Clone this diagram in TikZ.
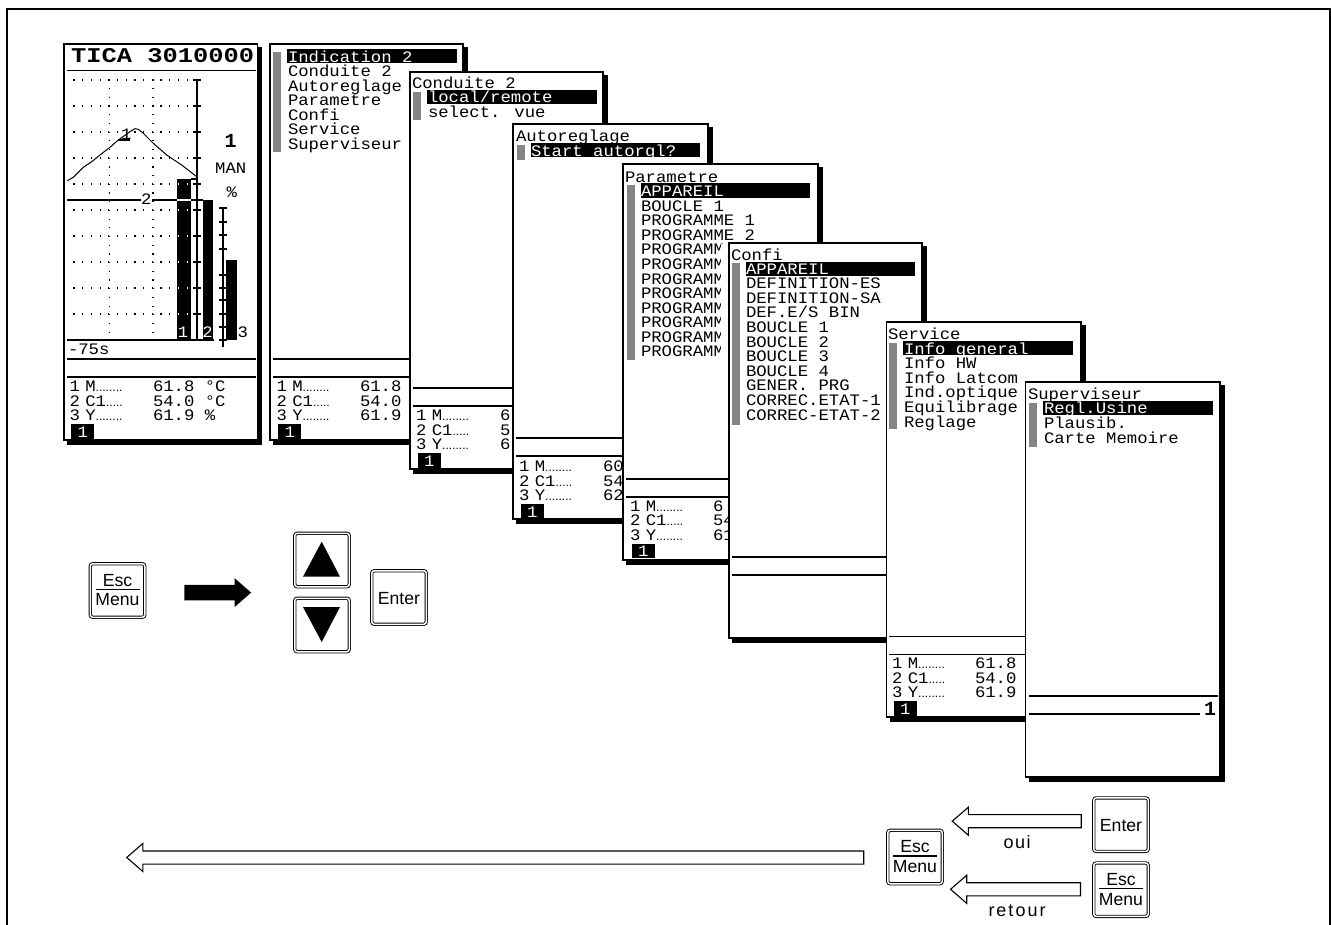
\documentclass[tikz,border=0pt]{standalone}
\usepackage{fontspec}
\usepackage{graphicx}
\usetikzlibrary{shapes.arrows,shapes.geometric}
\newfontfamily\lcd[FakeStretch=1.08]{Liberation Mono}
\newfontfamily\lcdb{Liberation Mono}
\newfontfamily\keyf{Liberation Sans}
\newcounter{tn}
\tikzset{
  lcdtext/.style={anchor=base west,inner sep=0pt,outer sep=0pt,font=\lcd\fontsize{16}{18}\selectfont},
  keytext/.style={inner sep=0pt,outer sep=0pt,font=\keyf\fontsize{17.6}{20}\selectfont},
  keybox/.style={draw=black,line width=0.9pt,double=white,double distance=1.5pt,rounded corners=2.5pt,minimum width=54.5pt,minimum height=53.5pt,inner sep=0pt,fill=white},
  holarrow/.style={single arrow,draw=black,line width=1.1pt,fill=white,shape border rotate=180,inner sep=0pt,outer sep=0pt,single arrow tip angle=82,single arrow head extend=7.5pt},
  panelline/.style={draw=black,line width=1.4pt,fill=white},
  rulel/.style={draw=black,line width=1.2pt},
  hatchbar/.style={fill=black!48},
  hilite/.style={fill=black},
}
\newcommand{\tx}[3]{\stepcounter{tn}\node[lcdtext] (t\arabic{tn}) at (#1,#2+5.6) {#3};}
\newcommand{\txw}[3]{\stepcounter{tn}\node[lcdtext,text=white] (t\arabic{tn}) at (#1,#2+5.6) {#3};}
\newcommand{\panel}[4]{%
  \fill[black] (#1+3,#2+3) -- (#3+4.5,#2+3) -- (#3+4.5,#4+4.5) -- (#1+3,#4+4.5) -- cycle;
  \path[panelline] (#1,#2) rectangle (#3,#4);}
\newcommand{\dotsf}[1]{{\keyf\fontsize{12}{12}\selectfont #1}}
% x, y of first line, x of values, three values
\newcommand{\datablk}[6]{%
  \tx{#1}{#2}{1\kern5.5ptM\dotsf{........}}
  \tx{#1}{#2+14.5}{2\kern5.5ptC1\dotsf{.....}}
  \tx{#1}{#2+29}{3\kern5.5ptY\dotsf{........}}
  \tx{#3}{#2}{#4}
  \tx{#3}{#2+14.5}{#5}
  \tx{#3}{#2+29}{#6}
  \fill[black] (#1+1.7,#2+38) rectangle (#1+24.7,#2+52.5);
  \txw{#1+8}{#2+45.5}{1}}
\newcommand{\esckey}[3]{%
  \node[keybox] (#1) at (#2,#3) {};
  \node[keytext] (#1e) at (#2,#3-10) {Esc};
  \node[keytext] (#1m) at (#2,#3+9.5) {Menu};
  \draw[line width=1.1pt] (#2-22,#3-1) -- (#2+22,#3-1);}
\begin{document}
\begin{tikzpicture}[x=1pt,y=-1pt]
\useasboundingbox (0,0) rectangle (1331,925);
\fill[white] (0,0) rectangle (1331,925);
% outer frame
\draw[line width=2.2pt] (7,925) -- (7,9) -- (1330,9) -- (1330,925);

% ---------- panel 0 : TICA
\panel{64}{44}{257.5}{440}
\stepcounter{tn}\node[anchor=base west,inner sep=0pt] (tica) at (71,63) {\scalebox{1.27}[1.05]{\lcdb\bfseries\fontsize{20}{22}\selectfont TICA 3010000}};
\draw[rulel] (67,70.7) -- (256,70.7);
\draw[rulel] (67,359) -- (256,359);
\draw[rulel] (67,377) -- (256,377);
% grid
\foreach \gy in {80,106,132,158,184,210,236,262,288,314}
  \foreach \n in {0,...,14}
    \fill[black] (74+\n*8.7-0.6,\gy-0.6) rectangle ++(1.2,1.2);
\foreach \gx in {109.5,153}
  \foreach \n in {0,...,29}
    \fill[black] (\gx-0.6,80+\n*8.7-0.6) rectangle ++(1.2,1.2);
% bars
\fill[black] (177.3,179) rectangle (190.7,340);
\fill[black] (203.3,200) rectangle (213.3,340);
\fill[black] (226,260) rectangle (236.7,340);
\begin{scope}
\clip (177.3,179) rectangle (190.7,340);
\foreach \gy in {184,210,236,262,288,314}
  \foreach \n in {0,...,14}
    \fill[white] (74+\n*8.7-0.6,\gy-0.6) rectangle ++(1.2,1.2);
\end{scope}
% axes
\draw[line width=1.3pt] (197,80) -- (197,340);
\foreach \gy in {80,106,132,158,184,210,236,262,288,314}
  \draw[line width=1.2pt] (193,\gy) -- (201,\gy);
\draw[line width=1.2pt] (223,208) -- (223,347);
\foreach \gy in {208,222,235,249,275,288,300,314,327,340}
  \draw[line width=1.2pt] (219,\gy) -- (227,\gy);
% baseline and level lines
\draw[rulel] (67,340) -- (214,340);
\draw[rulel] (67,200) -- (177.3,200);
\draw[white,line width=1.1pt] (177.3,200) -- (190.7,200);
\draw[rulel] (190.7,200) -- (203.3,200);
\fill[white] (140.5,192) rectangle (151.5,207);
\tx{141}{199}{2}
% trend
\draw[line width=1pt] (67.3,180.7) -- (73.3,177.3) -- (83.3,167.3) -- (91.7,161.7) -- (100,155) -- (110,147.3) -- (118.3,140) -- (130,131.7) -- (135,128.7) -- (138.3,129.3) -- (143.3,133.3) -- (153.3,143.3) -- (166.7,155) -- (181.7,165) -- (196.7,176.7);
\draw[line width=1.1pt] (190.7,179) -- (197,179);
\draw[line width=1.1pt] (118.3,140) -- (130,140);
\tx{121}{134.3}{1}
\txw{177.8}{332}{1}
\txw{202.3}{332}{2}
\tx{237.5}{332}{3}
\tx{68}{348.5}{-75s}
\stepcounter{tn}\node[anchor=base,inner sep=0pt] (bigone) at (230.7,147.5) {\lcdb\bfseries\fontsize{20}{22}\selectfont 1};
\stepcounter{tn}\node[lcdtext,anchor=base] (man) at (230.7,173.5) {MAN};
\stepcounter{tn}\node[lcdtext,anchor=base] (pct) at (231.7,198) {\%};
\datablk{69.5}{386}{153}{61.8 °C}{54.0 °C}{61.9 \%}

% ---------- panel 1 : main menu
\panel{270}{44}{463}{440}
\fill[hatchbar] (273,52) rectangle (281,152);
\fill[hilite] (287.3,49) rectangle (457.3,63);
\txw{288}{56.5}{Indication 2}
\tx{288}{71}{Conduite 2}
\tx{288}{85.5}{Autoreglage}
\tx{288}{100}{Parametre}
\tx{288}{114.7}{Confi}
\tx{288}{129.2}{Service}
\tx{288}{144}{Superviseur}
\draw[rulel] (273,359) -- (410,359);
\draw[rulel] (273,377) -- (410,377);
\datablk{276.5}{386}{360}{61.8}{54.0}{61.9}

% ---------- panel 2 : Conduite 2
\panel{410}{72}{603}{469}
\tx{412}{82.5}{Conduite 2}
\fill[hatchbar] (413,92) rectangle (421,120);
\fill[hilite] (427,90) rectangle (597,104);
\txw{428}{97}{local/remote}
\tx{428}{112}{select. vue}
\draw[rulel] (413,388) -- (513,388);
\draw[rulel] (413,406) -- (513,406);
\datablk{416}{415}{500}{6}{5}{6}

% ---------- panel 3 : Autoreglage
\panel{513}{124}{708}{519}
\tx{516}{136}{Autoreglage}
\fill[hatchbar] (517,145) rectangle (525,160);
\fill[hilite] (530.7,143) rectangle (700,157);
\txw{531}{150.5}{Start autorgl?}
\draw[rulel] (516,438) -- (623,438);
\draw[rulel] (516,456) -- (623,456);
\datablk{519}{466}{603}{60}{54}{62}

% ---------- panel 4 : Parametre
\panel{623}{164}{818}{560}
\tx{625}{176.5}{Parametre}
\fill[hatchbar] (627,185) rectangle (635,360);
\fill[hilite] (640.7,183) rectangle (810,198);
\txw{641}{191}{APPAREIL}
\tx{641}{205.5}{BOUCLE 1}
\tx{641}{220}{PROGRAMME 1}
\tx{641}{234.5}{PROGRAMME 2}
\foreach \yy in {249,264,278.5,293,307.5,322,336.5,351}
  {\tx{641}{\yy}{PROGRAMM}}
\fill[white] (721,244.5) rectangle (729,360);
\draw[rulel] (626,479) -- (729,479);
\draw[rulel] (626,497) -- (729,497);
\datablk{630}{505.5}{713}{6}{54}{61}

% ---------- panel 5 : Confi
\panel{729}{243}{922}{638}
\tx{731}{254.5}{Confi}
\fill[hatchbar] (732,263) rectangle (740,425);
\fill[hilite] (745.7,262) rectangle (915,276);
\txw{746}{269}{APPAREIL}
\tx{746}{283.3}{DEFINITION-ES}
\tx{746}{297.8}{DEFINITION-SA}
\tx{746}{312.3}{DEF.E/S BIN}
\tx{746}{327}{BOUCLE 1}
\tx{746}{341.5}{BOUCLE 2}
\tx{746}{356}{BOUCLE 3}
\tx{746}{370.5}{BOUCLE 4}
\tx{746}{385.3}{GENER. PRG}
\tx{746}{400}{CORREC.ETAT-1}
\tx{746}{414.5}{CORREC-ETAT-2}
\draw[rulel] (732,557) -- (886,557);
\draw[rulel] (732,575) -- (886,575);

% ---------- panel 6 : Service
\panel{886.7}{322}{1081}{717}
\tx{888}{334}{Service}
\fill[hatchbar] (889,343) rectangle (897,429);
\fill[hilite] (903,341) rectangle (1072.7,355);
\txw{904}{348.5}{Info general}
\tx{904}{363}{Info HW}
\tx{904}{378}{Info Latcom}
\tx{904}{392.3}{Ind.optique}
\tx{904}{407}{Equilibrage}
\tx{904}{421.5}{Reglage}
\draw[rulel] (889,636.7) -- (1026,636.7);
\draw[rulel] (889,654.3) -- (1026,654.3);
\datablk{892}{663}{975}{61.8}{54.0}{61.9}

% ---------- panel 7 : Superviseur
\panel{1025.7}{382}{1220}{777}
\tx{1028}{394}{Superviseur}
\fill[hatchbar] (1029,403) rectangle (1037,447);
\fill[hilite] (1043,400.7) rectangle (1212.7,415);
\txw{1044}{408}{Regl.Usine}
\tx{1044}{423}{Plausib.}
\tx{1044}{437.5}{Carte Memoire}
\draw[rulel] (1029,696) -- (1218,696);
\draw[rulel] (1029,714) -- (1200,714);
\stepcounter{tn}\node[anchor=base,inner sep=0pt] (lastone) at (1210,715) {\lcdb\bfseries\fontsize{20}{22}\selectfont 1};

% ---------- keys on the left
\esckey{kesca}{117.5}{590.5}
\node[single arrow,fill=black,inner sep=0pt,outer sep=0pt,single arrow tip angle=82,single arrow head extend=6.7pt,minimum height=66.7pt] (blackarrow) at (213.4,592.6) {\rule{0pt}{15pt}};
\node[keybox] (kup) at (322,560) {};
\fill[black] (321.7,541.7) -- (340,576.7) -- (303,576.7) -- cycle;
\node[keybox] (kdown) at (322,625) {};
\fill[black] (303,607) -- (340,607) -- (321.7,642) -- cycle;
\node[keybox] (kenta) at (399,597.5) {};
\node[keytext] (kentat) at (399,599) {Enter};

% ---------- bottom keys and arrows
\node[keybox] (kentb) at (1121,824.7) {};
\node[keytext] (kentbt) at (1121,826) {Enter};
\esckey{kescb}{1121}{889.7}
\esckey{kescc}{915}{857}
\node[holarrow,minimum height=129pt] (arra) at (1020.5,821.2) {\rule{0pt}{12pt}};
\node[holarrow,minimum height=130pt] (arrb) at (1019.3,889.3) {\rule{0pt}{12pt}};
\node[holarrow,minimum height=737pt] (arrc) at (499,857.5) {\rule{0pt}{12pt}};
\node[keytext,font=\keyf\fontsize{18}{20}\selectfont] (oui) at (1017,842) {o\kern1.5ptu\kern1.5pti};
\node[keytext,font=\keyf\fontsize{18}{20}\selectfont] (retour) at (1017,911) {r\kern2pte\kern2ptt\kern2pto\kern2ptu\kern2ptr};
\end{tikzpicture}
\end{document}
